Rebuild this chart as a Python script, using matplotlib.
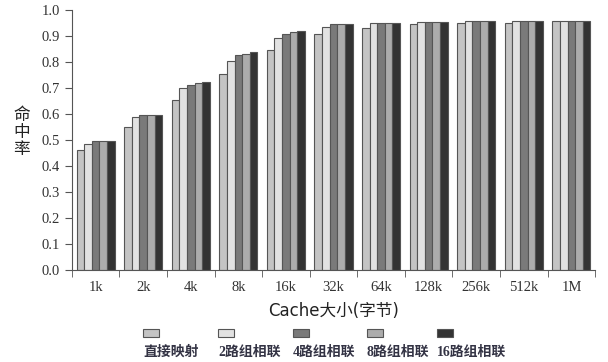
import numpy as np
import matplotlib.pyplot as plt
from matplotlib.patches import Rectangle

plt.rcParams['font.family'] = ['Liberation Serif', 'Noto Sans CJK SC']

# 数据
sizes = ['1k', '2k', '4k', '8k', '16k', '32k', '64k', '128k', '256k', '512k', '1M']
names = ['直接映射', '2路组相联', '4路组相联', '8路组相联', '16路组相联']
direct = [0.46, 0.551, 0.656, 0.756, 0.846, 0.91, 0.93, 0.945, 0.951, 0.951, 0.96]
way2 = [0.485, 0.587, 0.701, 0.803, 0.891, 0.936, 0.949, 0.956, 0.96, 0.96, 0.96]
way4 = [0.495, 0.597, 0.712, 0.827, 0.91, 0.946, 0.949, 0.956, 0.96, 0.96, 0.96]
way8 = [0.495, 0.597, 0.718, 0.833, 0.915, 0.946, 0.949, 0.956, 0.96, 0.96, 0.96]
way16 = [0.495, 0.597, 0.724, 0.838, 0.919, 0.946, 0.949, 0.956, 0.96, 0.96, 0.96]
series = [direct, way2, way4, way8, way16]
colors = ['#c4c4c4', '#e2e2e2', '#7a7a7a', '#acacac', '#333333']

fig = plt.figure(figsize=(6.08, 3.62), dpi=100)
ax = fig.add_axes([0.118, 0.254, 0.861, 0.718])

x = np.arange(len(sizes))
w = 0.16
for j, (vals, c) in enumerate(zip(series, colors)):
    ax.bar(x + 0.1 + w * j + w / 2, vals, width=w, color=c,
           edgecolor='#555555', linewidth=0.8)

ax.set_xlim(0, len(sizes))
ax.set_ylim(0, 1.0)
ax.set_yticks(np.arange(0, 1.01, 0.1))
ax.set_yticklabels(['%.1f' % v for v in np.arange(0, 1.01, 0.1)], fontsize=10.5, color='#333333')
ax.set_xticks(x + 0.5)
ax.set_xticklabels(sizes, fontsize=10.5, color='#333333')
ax.set_xticks(np.arange(len(sizes) + 1), minor=True)
ax.tick_params(axis='x', which='major', length=0, pad=8)
ax.tick_params(axis='x', which='minor', length=5, color='#555555')
ax.tick_params(axis='y', length=5, color='#555555')
for s in ['top', 'right']:
    ax.spines[s].set_visible(False)
for s in ['left', 'bottom']:
    ax.spines[s].set_color('#555555')

ax.set_xlabel('Cache大小(字节)', fontsize=12, family=['DejaVu Sans', 'Noto Sans CJK SC'],
              color='#222222', labelpad=6)
fig.text(0.035, 0.635, '命\n中\n率', fontsize=12, family='Noto Sans CJK SC',
         ha='center', va='center', linespacing=1.0, color='#222222')

# 图例
lx = [143, 218, 293, 367, 437]
for xp, name, c in zip(lx, names, colors):
    fig.patches.append(Rectangle((xp / 608, 1 - 337 / 362), 16 / 608, 8 / 362,
                                 transform=fig.transFigure, facecolor=c,
                                 edgecolor='#555555', linewidth=0.8))
    fig.text(xp / 608, 1 - 352 / 362, name, fontsize=10, fontweight='bold',
             family=['Liberation Serif', 'Noto Sans CJK SC'], color='#333344',
             ha='left', va='center')

plt.savefig('out.png', dpi=100)
